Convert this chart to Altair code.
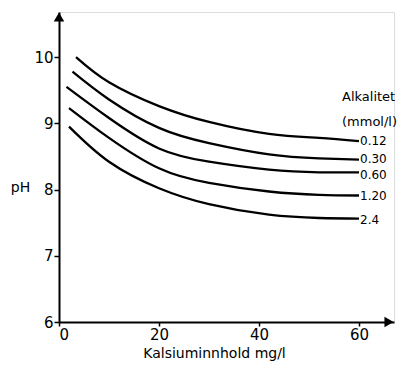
import altair as alt
import pandas as pd

# Alkalinity series (mmol/l) and readings of pH vs calcium content (mg/l)
alk_labels = ["0.12", "0.30", "0.60", "1.20", "2.4"]
ca_012 = [3.4, 10, 20, 30, 42, 52, 60]
ph_012 = [10.0, 9.62, 9.26, 9.02, 8.84, 8.78, 8.73]
ca_030 = [2.7, 10, 20, 30, 42, 52, 60]
ph_030 = [9.78, 9.36, 8.93, 8.70, 8.53, 8.47, 8.45]
ca_060 = [1.5, 10, 20, 30, 42, 52, 60]
ph_060 = [9.55, 9.08, 8.62, 8.42, 8.30, 8.26, 8.26]
ca_120 = [2.0, 10, 20, 30, 42, 52, 60]
ph_120 = [9.23, 8.78, 8.32, 8.10, 7.97, 7.92, 7.91]
ca_24 = [2.0, 10, 20, 30, 42, 52, 60]
ph_24 = [8.95, 8.42, 8.02, 7.78, 7.62, 7.57, 7.56]

x_ticks = [0, 20, 40, 60]
y_ticks = [6, 7, 8, 9, 10]
x_domain = [0, 67]
y_domain = [6, 10.68]
header_lines = ["Alkalitet", "(mmol/l)"]
header_ca = [56.6, 56.6]
header_ph = [9.40, 9.02]

FONT = "DejaVu Sans"
# small vertical nudges (px) for the end labels so close ones do not collide
label_nudge = {"0.12": 0, "0.30": -1, "0.60": 3, "1.20": 1, "2.4": 1}

rows = []
for lab, cas, phs in zip(alk_labels, [ca_012, ca_030, ca_060, ca_120, ca_24],
                         [ph_012, ph_030, ph_060, ph_120, ph_24]):
    for i, (c, p) in enumerate(zip(cas, phs)):
        rows.append({"alk": lab, "ca": c, "ph": p, "order": i})
df = pd.DataFrame(rows)
ends = df.groupby("alk", sort=False).tail(1)

xs = alt.Scale(domain=x_domain, nice=False, zero=False)
ys = alt.Scale(domain=y_domain, nice=False, zero=False)

lines = alt.Chart(df).mark_line(color="black", strokeWidth=2.3, interpolate="natural").encode(
    x=alt.X("ca:Q", scale=xs, axis=alt.Axis(
        values=x_ticks, format="d", title="Kalsiuminnhold mg/l", titleX=155, grid=False,
        domainColor="black", domainWidth=2, tickColor="black", tickSize=4, tickWidth=1.5,
        labelFontSize=15, labelFont=FONT, labelColor="black", labelPadding=1,
        titleFont=FONT, titleFontSize=14, titleFontWeight="normal", titleColor="black",
        titlePadding=4)),
    y=alt.Y("ph:Q", scale=ys, axis=alt.Axis(
        values=y_ticks, format="d", title="pH", titleAngle=0, titleX=-39, titleY=182,
        grid=False, domainColor="black", domainWidth=2, tickColor="black", tickSize=5,
        tickWidth=1.5, labelFontSize=15, labelFont=FONT, labelColor="black",
        labelPadding=1, titleFont=FONT, titleFontSize=14, titleFontWeight="normal",
        titleColor="black")),
    detail="alk:N",
    order="order:Q",
)

label_layers = []
for lab in alk_labels:
    label_layers.append(
        alt.Chart(ends[ends["alk"] == lab]).mark_text(
            align="left", baseline="middle", dx=1, dy=label_nudge[lab],
            fontSize=12, font=FONT, color="black").encode(
            x=alt.X("ca:Q", scale=xs), y=alt.Y("ph:Q", scale=ys), text="alk:N"))

hdr = pd.DataFrame({"t": header_lines, "ca": header_ca, "ph": header_ph})
header = alt.Chart(hdr).mark_text(align="left", baseline="middle", fontSize=13,
                                  font=FONT, color="black").encode(
    x=alt.X("ca:Q", scale=xs), y=alt.Y("ph:Q", scale=ys), text="t:N")

arr_up = alt.Chart(pd.DataFrame({"ca": [x_domain[0]], "ph": [y_domain[1]]})).mark_point(
    shape="triangle-up", size=110, filled=True, color="black", opacity=1, yOffset=5).encode(
    x=alt.X("ca:Q", scale=xs), y=alt.Y("ph:Q", scale=ys))
arr_right = alt.Chart(pd.DataFrame({"ca": [x_domain[1]], "ph": [y_domain[0]]})).mark_point(
    shape="triangle-right", size=110, filled=True, color="black", opacity=1, xOffset=-5).encode(
    x=alt.X("ca:Q", scale=xs), y=alt.Y("ph:Q", scale=ys))

chart = alt.layer(lines, *label_layers, header, arr_up, arr_right).properties(
    width=335, height=310,
    autosize=alt.AutoSizeParams(type="none"),
    padding={"left": 51, "top": 4, "right": 5, "bottom": 44},
).configure_view(stroke=None).configure(background="white")

chart.save("out.html", embed_options={"renderer": "svg", "actions": False})
